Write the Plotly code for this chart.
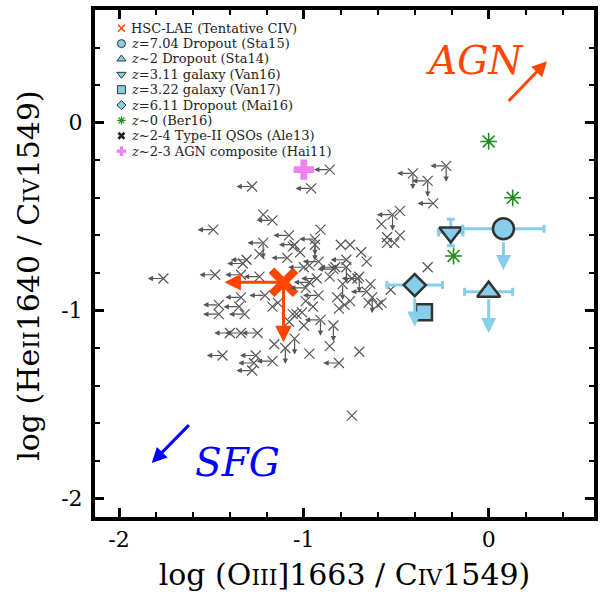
import plotly.graph_objects as go

# ---------------- data ----------------
# z~2-4 Type-II QSOs (Ale13): log(OIII]/CIV), log(HeII/CIV); lim flags = upper limits
qso_x = [-1.28, -1.22, -1.17, -1.49, -0.86, -0.96, -0.41, -0.33, -0.30, -0.23,
         -1.76, -1.08, -1.22, -1.05, -1.31, -1.33, -1.24, -1.09, -1.48, -1.34,
         -1.24, -1.34, -1.46, -1.46, -1.35, -1.32, -1.40, -1.34, -1.25, -1.44,
         -1.26, -1.27, -1.17, -1.28, -1.16, -1.10, -1.05, -1.14, -1.06, -0.97,
         -0.86, -0.70, -0.81, -0.74, -0.84, -0.91, -0.33, -0.60, -0.53, -0.64,
         -0.63, -0.79, -0.71, -0.75, -0.82, -0.78, -1.01, -1.00, -0.84, -0.77,
         -0.48, -0.52, -0.58, -0.48, -0.55, -0.55, -0.51, -0.91, -0.94, -1.06,
         -1.02, -0.80, -0.75, -0.69, -0.66, -0.92, -0.77, -0.83, -0.86, -0.74,
         -0.66, -0.58, -0.65, -0.81, -0.93, -0.97, -0.99, -0.92, -0.99, -0.95,
         -1.04, -1.08, -1.00, -0.97, -0.70, -1.17, -1.21, -0.94]
qso_y = [-0.34, -0.49, -0.52, -0.57, -0.25, -0.35, -0.27, -0.31, -0.43, -0.23,
         -0.83, -0.60, -0.64, -0.65, -0.73, -0.75, -0.70, -0.72, -0.81, -0.81,
         -0.82, -0.93, -0.97, -1.02, -0.98, -1.02, -1.12, -1.12, -1.12, -1.24,
         -1.24, -1.28, -1.27, -1.32, -1.18, -1.20, -1.15, -0.96, -1.02, -1.23,
         -1.19, -1.22, -1.28, -1.56, -1.08, -1.05, -0.77, -0.97, -0.89, -0.86,
         -0.93, -0.86, -0.83, -0.95, -0.93, -0.97, -1.01, -1.08, -0.78, -0.77,
         -0.47, -0.49, -0.54, -0.60, -0.61, -0.64, -0.64, -0.57, -0.62, -0.66,
         -0.69, -0.65, -0.65, -0.69, -0.74, -0.74, -0.73, -0.77, -0.82, -0.83,
         -0.90, -0.96, -0.96, -0.99, -0.83, -0.85, -0.88, -0.92, -0.95, -0.98,
         -1.02, -1.06, -0.77, -0.76, -0.82, -0.98, -0.92, -0.65]
qso_xlim = [1, 0, 1, 1, 1, 1, 1, 1, 1, 1,
            1, 1, 1, 1, 1, 1, 0, 1, 1, 1,
            1, 1, 1, 1, 1, 1, 1, 1, 1, 1,
            1, 1, 1, 1, 0, 0, 0, 0, 0, 0,
            0, 0, 1, 0, 0, 1, 0, 0, 0, 0,
            0, 0, 1, 0, 0, 0, 0, 0, 1, 1,
            0, 1, 0, 0, 0, 0, 0, 0, 1, 0,
            0, 0, 0, 0, 0, 1, 1, 1, 0, 0,
            1, 0, 0, 0, 1, 1, 1, 1, 0, 0,
            0, 0, 1, 0, 0, 0, 1, 0]
qso_ylim = [0, 0, 0, 0, 0, 0, 1, 1, 0, 1,
            0, 0, 1, 0, 0, 0, 0, 0, 0, 0,
            0, 0, 0, 0, 0, 0, 0, 0, 0, 0,
            0, 0, 0, 0, 0, 1, 1, 0, 0, 0,
            0, 0, 0, 0, 1, 1, 0, 0, 0, 0,
            1, 1, 0, 0, 0, 0, 0, 0, 0, 1,
            0, 1, 0, 0, 0, 0, 0, 0, 1, 0,
            0, 0, 0, 0, 0, 0, 0, 0, 0, 0,
            0, 0, 0, 0, 0, 0, 0, 0, 0, 0,
            0, 0, 0, 0, 1, 0, 0, 1]

# HSC-LAE (tentative CIV): both ratios are upper limits
lae_x = [-1.11]
lae_y = [-0.85]

# z=7.04 dropout (Sta15): HeII/CIV upper limit
sta15_x, sta15_y, sta15_xerr = [0.08], [-0.565], [0.22]
# z~2 dropout (Sta14): HeII/CIV upper limit
sta14_x, sta14_y, sta14_xerr = [0.0], [-0.90], [0.13]
# z=3.11 galaxy (Van16)
van16_x, van16_y, van16_xerr, van16_yerr = [-0.205], [-0.585], [0.066], [0.07]
# z=3.22 galaxy (Van17)
van17_x, van17_y = [-0.35], [-1.01]
# z=6.11 dropout (Mai16): HeII/CIV upper limit
mai16_x, mai16_y, mai16_xerr = [-0.40], [-0.865], [0.15]
# local sample (Ber16)
ber16_x = [0.0, 0.13, -0.19]
ber16_y = [-0.10, -0.40, -0.71]
# z~2-3 AGN composite (Hai11)
hai11_x = [-1.0]
hai11_y = [-0.25]

tick_vals = [-2, -1, 0]
tick_text = ["-2", "-1", "0"]

legend_labels = [
    "HSC-LAE (Tentative CIV)",
    "<i>z</i>=7.04 Dropout (Sta15)",
    "<i>z</i>~2 Dropout (Sta14)",
    "<i>z</i>=3.11 galaxy (Van16)",
    "<i>z</i>=3.22 galaxy (Van17)",
    "<i>z</i>=6.11 Dropout (Mai16)",
    "<i>z</i>~0 (Ber16)",
    "<i>z</i>~2-4 Type-II QSOs (Ale13)",
    "<i>z</i>~2-3 AGN composite (Hai11)",
]

# ---------------- styles ----------------
FONT = "DejaVu Serif"
ORANGE = "#FF4500"
SKY = "#87CEEB"
EDGE = "#333333"
GREEN = "#228B22"
PINK = "#EE82EE"
GREY = "#555555"

QSO_ARROW = 0.085
LAE_ARROW = 0.32
BLUE_ARROW = 0.22

fig = go.Figure()
annotations = []


def limit_arrow(x0, y0, x1, y1, color, width, size=1.0, start=0):
    annotations.append(dict(
        x=x1, y=y1, ax=x0, ay=y0, xref="x", yref="y", axref="x", ayref="y",
        text="", showarrow=True, arrowhead=2, arrowsize=size, arrowwidth=width,
        arrowcolor=color, startstandoff=start, standoff=0))


# Type-II QSOs
fig.add_trace(go.Scatter(
    x=qso_x, y=qso_y, mode="markers", showlegend=False,
    marker=dict(symbol="x-thin-open", size=10, color=GREY,
                line=dict(color=GREY, width=1.2))))
for x, y, lx, ly in zip(qso_x, qso_y, qso_xlim, qso_ylim):
    if lx:
        limit_arrow(x, y, x - QSO_ARROW, y, GREY, 1.2, 0.9)
    if ly:
        limit_arrow(x, y, x, y - QSO_ARROW, GREY, 1.2, 0.9)

# AGN composite
fig.add_trace(go.Scatter(
    x=hai11_x, y=hai11_y, mode="markers", showlegend=False,
    marker=dict(symbol="cross", size=17, color=PINK, line=dict(width=0))))

# local sample
fig.add_trace(go.Scatter(
    x=ber16_x, y=ber16_y, mode="markers", showlegend=False,
    marker=dict(symbol="asterisk-open", size=14, color=GREEN,
                line=dict(color=GREEN, width=1.6))))


# blue comparison galaxies with error bars
def blue_point(xs, ys, symbol, size, xerr=None, yerr=None):
    kw = {}
    if xerr is not None:
        kw["error_x"] = dict(type="data", array=xerr, color=SKY, thickness=3, width=4)
    if yerr is not None:
        kw["error_y"] = dict(type="data", array=yerr, color=SKY, thickness=3, width=4)
    fig.add_trace(go.Scatter(
        x=xs, y=ys, mode="markers", showlegend=False,
        marker=dict(symbol=symbol, size=size, color=SKY,
                    line=dict(color=EDGE, width=2.5)), **kw))


blue_point(mai16_x, mai16_y, "diamond", 17, xerr=mai16_xerr)
blue_point(van17_x, van17_y, "square", 16)
blue_point(van16_x, van16_y, "triangle-down", 20, xerr=van16_xerr, yerr=van16_yerr)
blue_point(sta14_x, sta14_y, "triangle-up", 20, xerr=sta14_xerr)
blue_point(sta15_x, sta15_y, "circle", 21, xerr=sta15_xerr)

limit_arrow(sta15_x[0], sta15_y[0], sta15_x[0], sta15_y[0] - BLUE_ARROW, SKY, 3, 1.0, 12)
limit_arrow(sta14_x[0], sta14_y[0], sta14_x[0], sta14_y[0] - BLUE_ARROW, SKY, 3, 1.0, 6)
limit_arrow(mai16_x[0], mai16_y[0], mai16_x[0], mai16_y[0] - BLUE_ARROW, SKY, 3, 1.0, 12)

# HSC-LAE
fig.add_trace(go.Scatter(
    x=lae_x, y=lae_y, mode="markers", showlegend=False,
    marker=dict(symbol="x-thin-open", size=24, color=ORANGE,
                line=dict(color=ORANGE, width=8))))
limit_arrow(lae_x[0], lae_y[0], lae_x[0] - LAE_ARROW, lae_y[0], ORANGE, 3, 1.1)
limit_arrow(lae_x[0], lae_y[0], lae_x[0], lae_y[0] - LAE_ARROW, ORANGE, 3, 1.1)

# ---------------- key (drawn on an overlay axis in plot-fraction units) ----------------
key_markers = [
    dict(symbol="x-thin-open", size=7, color=ORANGE, line=dict(color=ORANGE, width=1.6)),
    dict(symbol="circle", size=8, color=SKY, line=dict(color=EDGE, width=1)),
    dict(symbol="triangle-up", size=8, color=SKY, line=dict(color=EDGE, width=1)),
    dict(symbol="triangle-down", size=8, color=SKY, line=dict(color=EDGE, width=1)),
    dict(symbol="square", size=8, color=SKY, line=dict(color=EDGE, width=1)),
    dict(symbol="diamond", size=7, color=SKY, line=dict(color=EDGE, width=1)),
    dict(symbol="asterisk-open", size=7, color=GREEN, line=dict(color=GREEN, width=1.2)),
    dict(symbol="x-thin-open", size=6, color="#222222", line=dict(color="#222222", width=2.6)),
    dict(symbol="cross", size=8, color=PINK, line=dict(width=0)),
]
KEY_X0 = 0.053
KEY_TX = 0.069
KEY_Y0 = 0.964
KEY_DY = 0.0303
for i, (lab, mk) in enumerate(zip(legend_labels, key_markers)):
    ky = KEY_Y0 - i * KEY_DY
    fig.add_trace(go.Scatter(
        x=[KEY_X0], y=[ky], xaxis="x2", yaxis="y2", mode="markers",
        showlegend=False, hoverinfo="skip", marker=mk))
    annotations.append(dict(
        x=KEY_TX, y=ky, xref="paper", yref="paper", xanchor="left", yanchor="middle",
        text=lab, showarrow=False, font=dict(family=FONT, size=13, color="#222222")))

# ---------------- AGN / SFG indicators ----------------
annotations.append(dict(x=0.316, y=0.327, ax=0.10, ay=0.107, xref="x", yref="y",
                        axref="x", ayref="y", text="", showarrow=True, arrowhead=2,
                        arrowsize=1.0, arrowwidth=3, arrowcolor=ORANGE))
annotations.append(dict(x=-0.075, y=0.33, xref="x", yref="y", text="<i>AGN</i>",
                        showarrow=False, font=dict(family=FONT, size=39, color=ORANGE)))
annotations.append(dict(x=-1.823, y=-1.812, ax=-1.614, ay=-1.603, xref="x", yref="y",
                        axref="x", ayref="y", text="", showarrow=True, arrowhead=2,
                        arrowsize=1.0, arrowwidth=3, arrowcolor="#0000FF"))
annotations.append(dict(x=-1.36, y=-1.81, xref="x", yref="y", text="<i>SFG</i>",
                        showarrow=False, font=dict(family=FONT, size=39, color="#0000FF")))

small = "<span style='font-size:22px'>{}</span>"

# vertical axis title, set slightly below the axis midpoint
annotations.append(dict(
    x=-0.133, y=0.477, xref="paper", yref="paper", xanchor="center", yanchor="middle",
    textangle=-90, showarrow=False,
    text="log (He" + small.format("II") + "1640 / C" + small.format("IV") + "1549)",
    font=dict(family=FONT, size=30, color="black")))

axis_common = dict(
    tickmode="array", tickvals=tick_vals, ticktext=tick_text,
    ticks="inside", ticklen=9, tickwidth=3, tickcolor="black",
    showline=True, linewidth=4, linecolor="black", mirror="allticks",
    showgrid=False, zeroline=False,
    tickfont=dict(family=FONT, size=22, color="black"),
    minor=dict(tickmode="linear", tick0=0, dtick=0.2, ticks="inside",
               ticklen=5, tickwidth=2, tickcolor="black", showgrid=False),
)

fig.update_layout(
    width=601, height=600,
    margin=dict(l=95, r=3, t=10, b=83),
    paper_bgcolor="white", plot_bgcolor="white",
    font=dict(family=FONT, color="black"),
    showlegend=False,
    xaxis=dict(range=[-2.13, 0.57], ticklabelstandoff=0,
               title=dict(text="log (O" + small.format("III") + "]1663 / C" + small.format("IV") + "1549)",
                          font=dict(family=FONT, size=30), standoff=14),
               **axis_common),
    yaxis=dict(range=[-2.1, 0.6], ticklabelstandoff=4, **axis_common),
    xaxis2=dict(range=[0, 1], overlaying="x", visible=False, fixedrange=True),
    yaxis2=dict(range=[0, 1], overlaying="y", visible=False, fixedrange=True),
    annotations=annotations,
)

fig.write_html("out.html")
